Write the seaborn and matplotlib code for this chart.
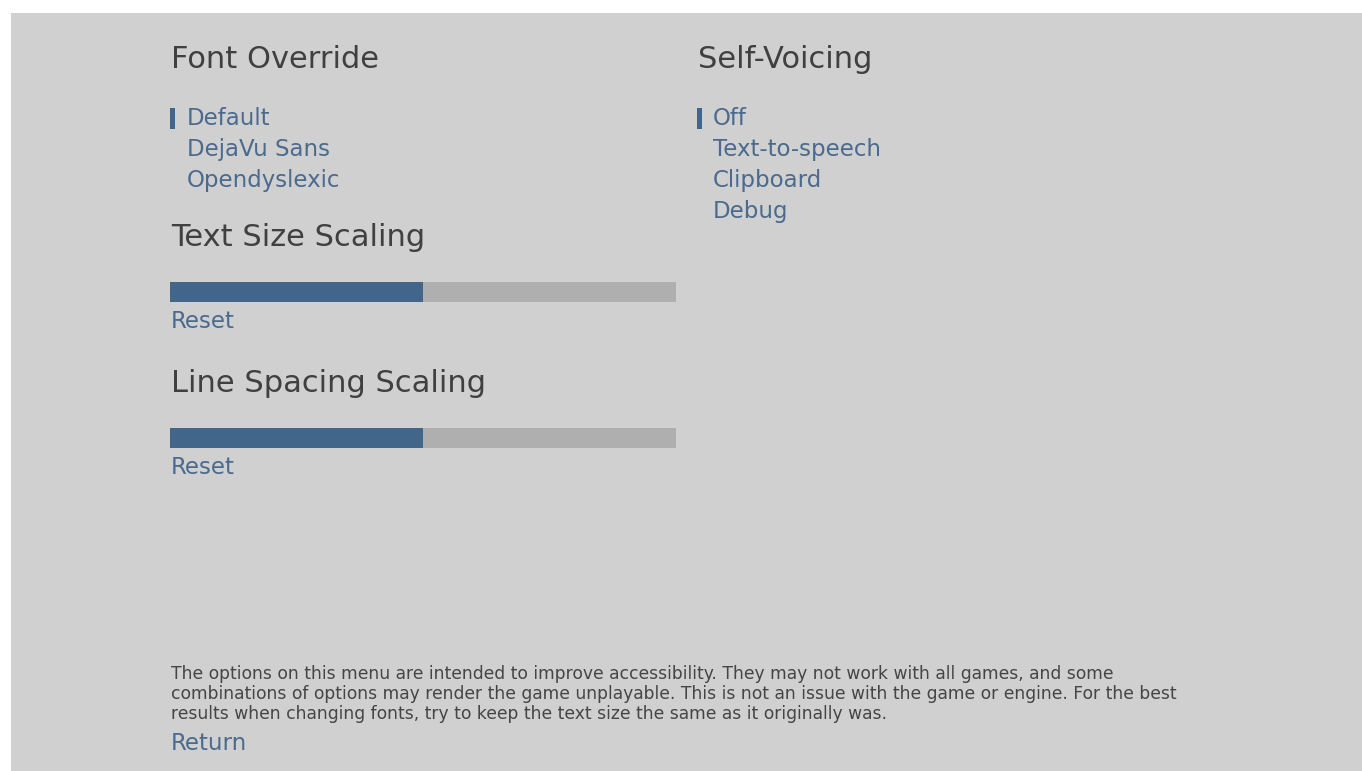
import matplotlib
matplotlib.use('Agg')
import matplotlib.pyplot as plt
import seaborn as sns
import pandas as pd

# Données de l'écran
font_title = 'Font Override'
font_options = ['Default', 'DejaVu Sans', 'Opendyslexic']
voice_title = 'Self-Voicing'
voice_options = ['Off', 'Text-to-speech', 'Clipboard', 'Debug']
slider_labels = ['Text Size Scaling', 'Line Spacing Scaling']
slider_values = [0.5, 0.5]
footer_lines = [
    'The options on this menu are intended to improve accessibility. They may not work with all games, and some',
    'combinations of options may render the game unplayable. This is not an issue with the game or engine. For the best',
    'results when changing fonts, try to keep the text size the same as it originally was.',
]

BG = '#d0d0d0'
DARK = '#404040'
BLUE = '#4a6a8e'
FILL = '#42658a'
EMPTY = '#afafaf'

sns.set_theme(style='white')
plt.rcParams['font.family'] = ['DejaVu Sans']

W, H = 1362, 771
fig = plt.figure(figsize=(W / 100, H / 100), dpi=100, facecolor='white')

# Fond gris
bg = fig.add_axes([11 / W, 0, (W - 11) / W, (H - 13) / H])
bg.set_facecolor(BG)
bg.set_xticks([])
bg.set_yticks([])
for s in bg.spines.values():
    s.set_visible(False)

# Axe en pixels pour les textes
ax = fig.add_axes([0, 0, 1, 1])
ax.set_xlim(0, W)
ax.set_ylim(H, 0)
ax.axis('off')

# Colonne gauche
ax.text(171, 68, font_title, fontsize=22, color=DARK, va='baseline')
for i, opt in enumerate(font_options):
    ax.text(187, 125 + 31 * i, opt, fontsize=16.5, color=BLUE, va='baseline')
ax.add_patch(plt.Rectangle((170, 108), 5, 21, color=FILL, lw=0))

# Colonne droite
ax.text(698, 68, voice_title, fontsize=22, color=DARK, va='baseline')
for i, opt in enumerate(voice_options):
    ax.text(713, 125 + 31 * i, opt, fontsize=16.5, color=BLUE, va='baseline')
ax.add_patch(plt.Rectangle((697, 108), 5, 21, color=FILL, lw=0))

# Titres des curseurs et boutons Reset
for i, lab in enumerate(slider_labels):
    ax.text(171, 246 + 146 * i, lab, fontsize=22, color=DARK, va='baseline')
    ax.text(171, 328 + 146 * i, 'Reset', fontsize=16.5, color=BLUE, va='baseline')

# Curseurs : barres horizontales seaborn
df = pd.DataFrame({'label': slider_labels, 'value': slider_values, 'full': [1.0] * len(slider_values)})
sax = fig.add_axes([170 / W, 1 - 511 / H, 506 / W, 292 / H])
sns.barplot(data=df, x='full', y='label', color=EMPTY, width=20 / 146, ax=sax, saturation=1, linewidth=0)
sns.barplot(data=df, x='value', y='label', color=FILL, width=20 / 146, ax=sax, saturation=1, linewidth=0)
sax.set_xlim(0, 1)
sax.set_ylim(1.5, -0.5)
sax.axis('off')
sax.patch.set_alpha(0)

# Texte de bas de page
for i, line in enumerate(footer_lines):
    ax.text(171, 679 + 20 * i, line, fontsize=12.35, color='#454545', va='baseline')
ax.text(171, 750, 'Return', fontsize=16.5, color=BLUE, va='baseline')

fig.savefig('out.png', dpi=100, facecolor='white')
